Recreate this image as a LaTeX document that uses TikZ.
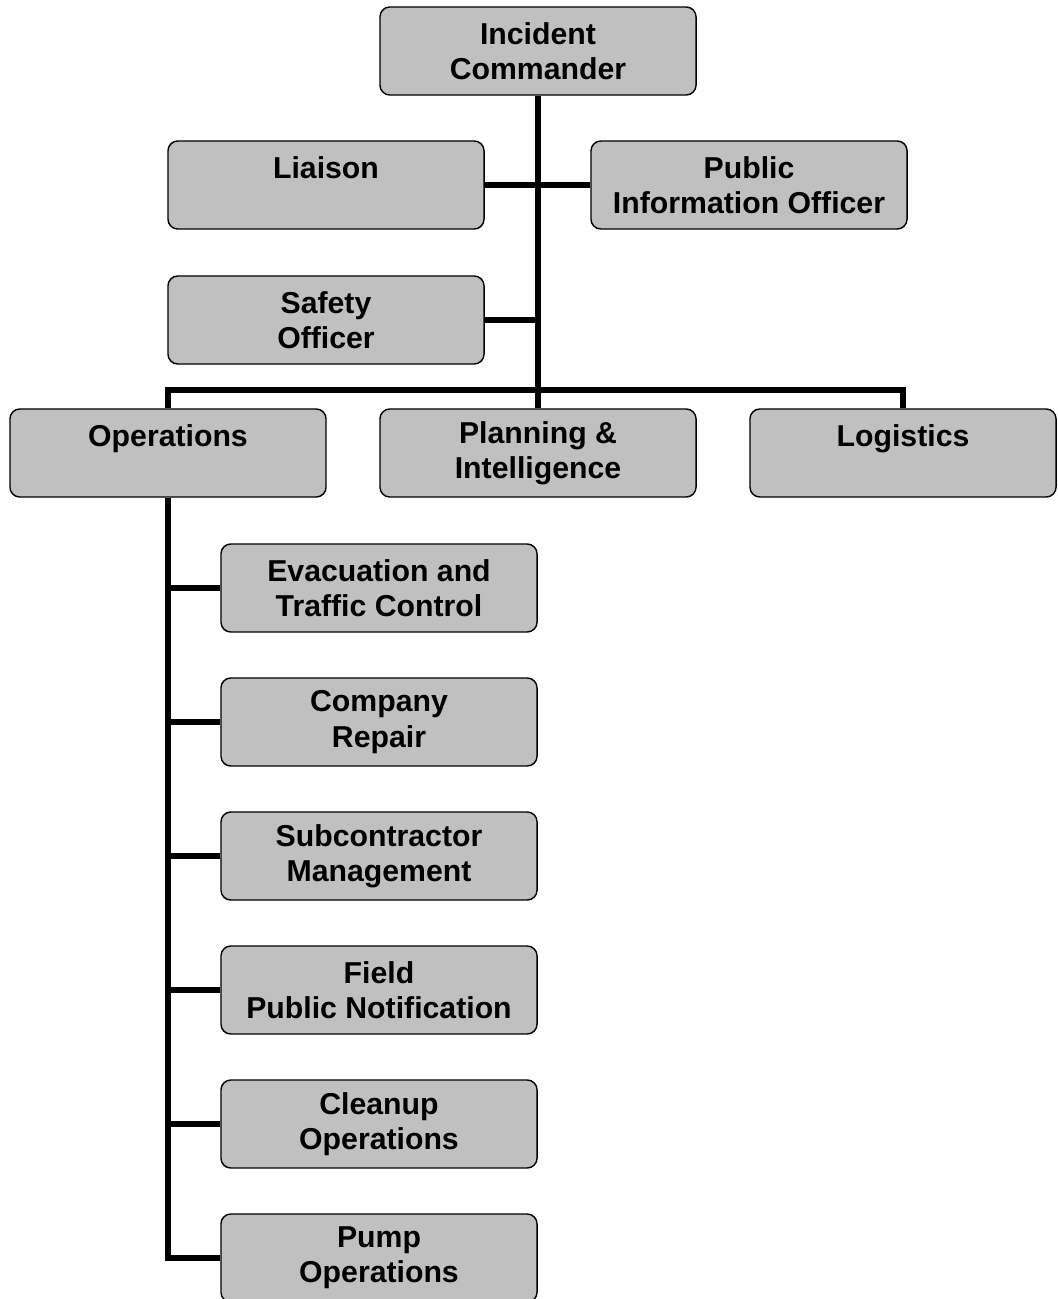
\documentclass[tikz,border=0pt]{standalone}
\definecolor{boxgray}{RGB}{192, 192, 192}
\usepackage{fontspec}
\setmainfont{Liberation Sans}
\usepackage{tikz}
\usetikzlibrary{positioning, calc}

\begin{document}
\begin{tikzpicture}[x=0.025cm, y=-0.025cm,
  orgbox/.style={draw=black, fill=boxgray, line width=1pt, rounded corners=7pt,
    minimum width=7.9cm, minimum height=2.2cm, align=center, inner sep=2pt,
    font=\fontsize{21.5}{25}\selectfont\bfseries},
  link/.style={line width=3.6pt}]
  \clip (0, 0) rectangle (1057, 1299);
  \useasboundingbox (0, 0) rectangle (1057, 1299);

  % Command staff
  \node[orgbox] (ic) at (538, 51) {Incident\\Commander};
  \node[orgbox] (liaison) at (326, 185) {Liaison\\~};
  \node[orgbox] (pio) at (749, 185) {Public\\Information Officer};
  \node[orgbox] (safety) at (326, 320) {Safety\\Officer};

  % General staff
  \node[orgbox] (ops) at (168, 453) {Operations\\~};
  \node[orgbox] (plan) at (538, 453) {Planning \&\\Intelligence};
  \node[orgbox, minimum width=7.65cm] (logi) at (903, 453) {Logistics\\~};

  % Operations branches
  \node[orgbox] (evac) at (379, 588) {Evacuation and\\Traffic Control};
  \node[orgbox] (repair) at (379, 722) {Company\\Repair};
  \node[orgbox] (subcon) at (379, 856) {Subcontractor\\Management};
  \node[orgbox] (field) at (379, 990) {Field\\Public Notification};
  \node[orgbox] (cleanup) at (379, 1124) {Cleanup\\Operations};
  \node[orgbox] (pump) at (379, 1258) {Pump\\Operations};

  % Connectors
  \coordinate (bar) at (538, 390);
  \draw[link] (ic.south) -- (plan.north);
  \draw[link] (liaison.east) -- (pio.west);
  \draw[link] (safety.east) -- (safety.east -| ic.south);
  \draw[link] (ops.north) |- (bar) -| (logi.north);
  \draw[link] (ops.south) |- (pump.west);
  \foreach \b in {evac, repair, subcon, field, cleanup}
    \draw[link] (\b.west) -- (\b.west -| ops.south);
\end{tikzpicture}
\end{document}
